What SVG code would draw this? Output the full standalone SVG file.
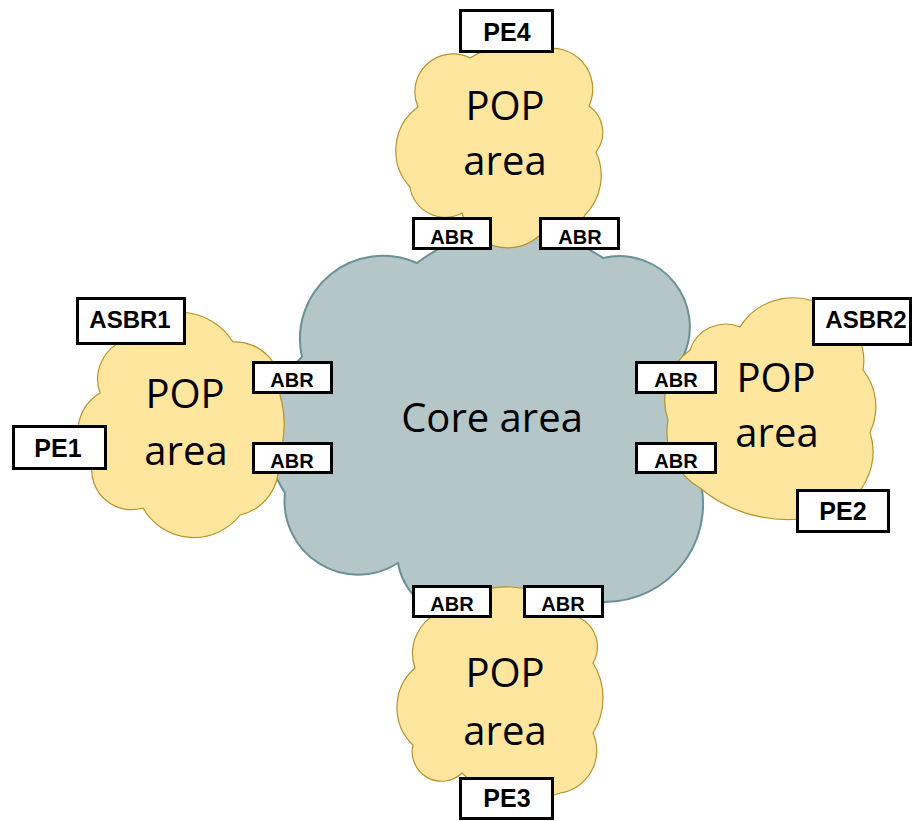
<svg xmlns="http://www.w3.org/2000/svg" width="913" height="821" viewBox="0 0 913 821">
<style>
.core{fill:#B4C6C8;stroke:#6A9196;stroke-width:2}
.pop{fill:#FFE69F;stroke:#B8922A;stroke-width:1.2}
.area{font-family:"Open Sans","Noto Sans",sans-serif;font-size:40px;fill:#000;text-anchor:middle}
.box{fill:#fff;stroke:#000;stroke-width:3}
.lbl{font-family:"Liberation Sans",Arial,sans-serif;font-weight:bold;fill:#000;text-anchor:middle}
.abr{font-size:20px}
.pe{font-size:25px}
.asbr{font-size:24px}
</style>
<rect width="913" height="821" fill="#fff"/>
<g id="connectors"/>
<g id="core-area">
<path class="core" d="M302,357 A83,83 0 0 1 417,263 A159,159 0 0 1 603,258 A70.6,70.6 0 0 1 683,357 A116,116 0 0 1 697,470 A98,98 0 0 1 605,602 A121,121 0 0 1 500,606 A65.7,65.7 0 0 1 398,563 A73.6,73.6 0 0 1 285,493 A106,106 0 0 1 302,357 Z"/>
<text class="area" x="492" y="432">Core area</text>
</g>
<g id="pop-top">
<path class="pop" d="M470,58 A81.7,81.7 0 0 1 540,50 A40.8,40.8 0 0 1 589,106 A32,32 0 0 1 596,152 A56,56 0 0 1 585,215 A35.3,35.3 0 0 1 540,235 A47.2,47.2 0 0 1 462,213 A35.5,35.5 0 0 1 410,187 A53.9,53.9 0 0 1 418,107 A38,38 0 0 1 470,58 Z"/>
<text class="area" x="505" y="120">POP</text>
<text class="area" x="505" y="175">area</text>
</g>
<g id="pop-left">
<path class="pop" d="M125,340 A64.8,64.8 0 0 1 233,342 A45.4,45.4 0 0 1 280,395 A108,108 0 0 1 278,460 A49.5,49.5 0 0 1 240,515 A58.5,58.5 0 0 1 143,508 A39.9,39.9 0 0 1 92,465 A45.4,45.4 0 0 1 100,393 A41.8,41.8 0 0 1 125,340 Z"/>
<text class="area" x="185" y="408">POP</text>
<text class="area" x="186" y="465">area</text>
</g>
<g id="pop-right">
<path class="pop" d="M740,327 A62.4,62.4 0 0 1 830,310 A54.9,54.9 0 0 1 863,370 A58.5,58.5 0 0 1 870,432 A65.6,65.6 0 0 1 830,513 A137.4,137.4 0 0 1 700,488 A64.9,64.9 0 0 1 668,420 A62,62 0 0 1 690,350 A37.5,37.5 0 0 1 740,327 Z"/>
<text class="area" x="776" y="392">POP</text>
<text class="area" x="777" y="447">area</text>
</g>
<g id="pop-bottom">
<path class="pop" d="M440,612 A101.6,101.6 0 0 1 580,618 A32.4,32.4 0 0 1 593,663 A66.3,66.3 0 0 1 593,733 A43,43 0 0 1 560,793 A90.8,90.8 0 0 1 462,773 A29.4,29.4 0 0 1 413,745 A52.1,52.1 0 0 1 415,668 A45,45 0 0 1 440,612 Z"/>
<text class="area" x="505" y="687">POP</text>
<text class="area" x="505" y="745">area</text>
</g>
<g id="pe4"><rect class="box" x="460.5" y="10.5" width="92" height="41"/><text class="lbl pe" x="507" y="41">PE4</text></g>
<g id="abr-top-left"><rect class="box" x="413.5" y="218.5" width="77" height="30"/><text class="lbl abr" x="452" y="244">ABR</text></g>
<g id="abr-top-right"><rect class="box" x="540.5" y="218.5" width="78" height="30"/><text class="lbl abr" x="580" y="244">ABR</text></g>
<g id="asbr1"><rect class="box" x="77.5" y="298.5" width="107" height="45"/><text class="lbl asbr" x="130" y="328">ASBR1</text></g>
<g id="pe1"><rect class="box" x="13.5" y="426.5" width="92" height="42"/><text class="lbl pe" x="58" y="457">PE1</text></g>
<g id="abr-left-1"><rect class="box" x="253.5" y="362.5" width="78" height="30"/><text class="lbl abr" x="292" y="387">ABR</text></g>
<g id="abr-left-2"><rect class="box" x="253.5" y="443.5" width="78" height="29"/><text class="lbl abr" x="292" y="468">ABR</text></g>
<g id="abr-right-1"><rect class="box" x="636.5" y="362.5" width="79" height="30"/><text class="lbl abr" x="676" y="387">ABR</text></g>
<g id="abr-right-2"><rect class="box" x="636.5" y="443.5" width="79" height="29"/><text class="lbl abr" x="676" y="468">ABR</text></g>
<g id="asbr2"><rect class="box" x="813.5" y="298.5" width="97" height="46"/><text class="lbl asbr" x="866" y="328">ASBR2</text></g>
<g id="pe2"><rect class="box" x="797.5" y="490.5" width="91" height="41"/><text class="lbl pe" x="843" y="520">PE2</text></g>
<g id="abr-bottom-left"><rect class="box" x="413.5" y="586.5" width="77" height="30"/><text class="lbl abr" x="452" y="611">ABR</text></g>
<g id="abr-bottom-right"><rect class="box" x="524.5" y="586.5" width="78" height="30"/><text class="lbl abr" x="563" y="611">ABR</text></g>
<g id="pe3"><rect class="box" x="460.5" y="778.5" width="92" height="40"/><text class="lbl pe" x="507" y="807">PE3</text></g>
</svg>
